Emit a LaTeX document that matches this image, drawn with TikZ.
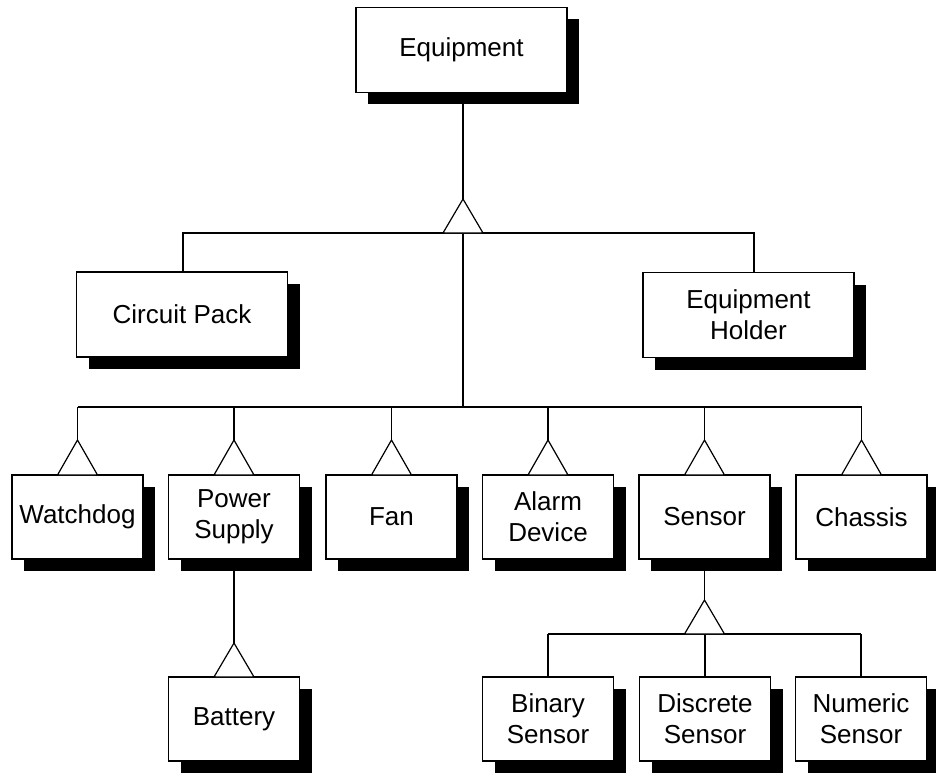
\documentclass[tikz,border=0pt]{standalone}
\usepackage{fontspec}
\setmainfont{Liberation Sans}
\usetikzlibrary{shadows,calc}
\begin{document}
\begin{tikzpicture}[x=1pt,y=-1pt,
  cls/.style={draw, fill=white, line width=1.3pt, inner sep=0pt, align=center,
    font=\fontsize{26}{31}\selectfont,
    drop shadow={shadow xshift=12pt, shadow yshift=-12pt, fill=black, opacity=1}},
  wide/.style={cls, minimum width=211pt, minimum height=85pt},
  small/.style={cls, minimum width=131pt, minimum height=84pt},
  link/.style={line width=1.2pt},
  gen/.style={line width=1.2pt, fill=white, line join=miter}]
\useasboundingbox (0,0) rectangle (936,773);

% classes
\node[wide] (eq) at (461.5,50) {Equipment};
\node[wide] (cp) at (182,314.5) {Circuit Pack};
\node[wide] (eh) at (748.5,315) {Equipment\\Holder};

\node[small] (wd)  at (77.5,517)  {Watchdog};
\node[small] (ps)  at (234,517)   {Power\\Supply};
\node[small] (fan) at (391.5,517) {Fan};
\node[small] (al)  at (548,517)   {Alarm\\Device};
\node[small] (se)  at (704.5,517) {Sensor};
\node[small] (ch)  at (861.5,517) {Chassis};

\node[small] (bat) at (234,719) {Battery};
\node[small] (bin) at (548,719) {Binary\\Sensor};
\node[small] (dis) at (705,719) {Discrete\\Sensor};
\node[small] (num) at (861,719) {Numeric\\Sensor};

% helper coordinates
\coordinate (t0) at (463,199);
\coordinate (b0) at (463,233);
\coordinate (b1) at (463,407);
\coordinate (a1) at (0,440);
\coordinate (a2) at (0,643);
\coordinate (a3) at (0,600);
\coordinate (b3) at (0,634);
\coordinate (cpc) at ($(cp.north)+(1,0)$);
\coordinate (ehc) at ($(eh.north)+(5.5,0)$);

% top generalisation
\draw[link] (eq.south -| t0) -- (t0);
\draw[link] (cpc) -- (cpc |- b0) -- (ehc |- b0) -- (ehc);
\draw[link] (b0) -- (b1);
\draw[gen] (t0) -- ++(-20,34) -- ++(40,0) -- cycle;

% second level bus
\draw[link] (wd.north |- b1) -- (ch.north |- b1);
\foreach \n in {wd,ps,fan,al,se,ch} {
  \draw[link] (\n.north |- b1) -- (\n.north |- a1);
  \draw[gen] (\n.north |- a1) -- ++(-20,35) -- ++(40,0) -- cycle;
}

% battery
\draw[link] (ps.south) -- (ps.south |- a2);
\draw[gen] (ps.south |- a2) -- ++(-20,34) -- ++(40,0) -- cycle;

% sensor subclasses
\draw[link] (se.south) -- (se.south |- a3);
\draw[link] (bin.north |- b3) -- (num.north |- b3);
\foreach \n in {bin,dis,num} {
  \draw[link] (\n.north |- b3) -- (\n.north);
}
\draw[gen] (se.south |- a3) -- ++(-20,34) -- ++(40,0) -- cycle;
\end{tikzpicture}
\end{document}
